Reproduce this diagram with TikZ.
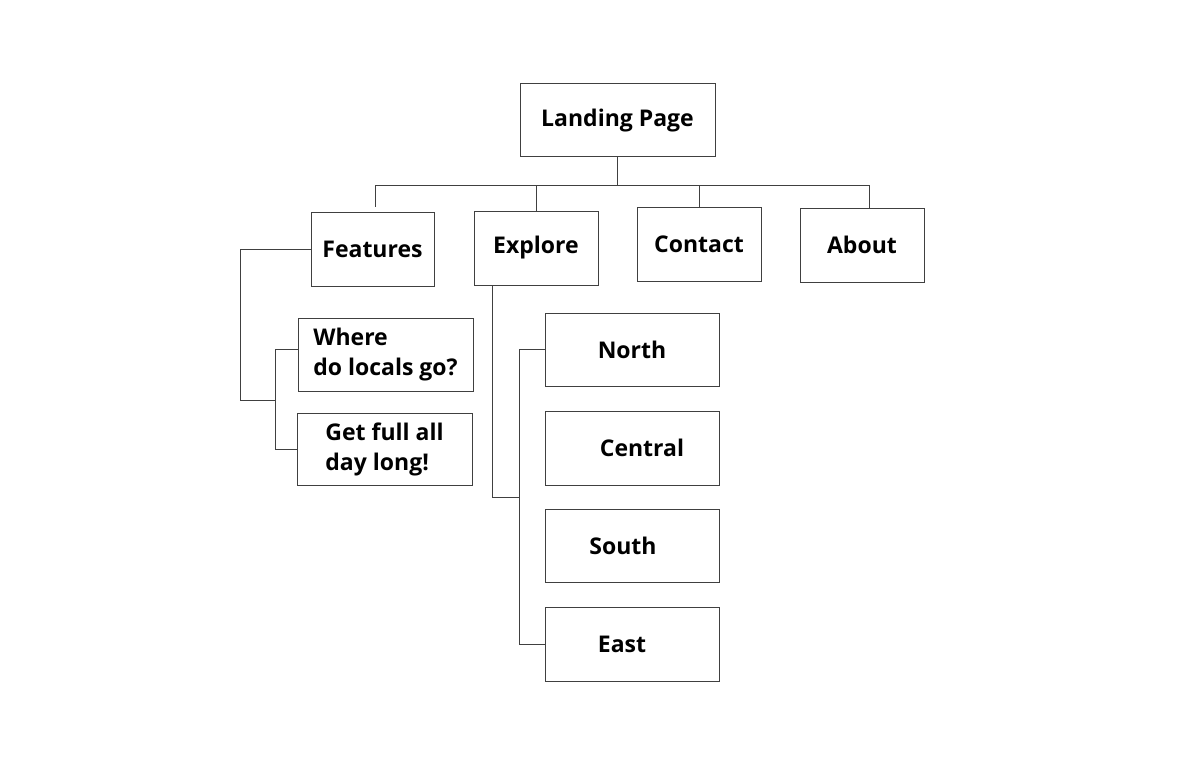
\documentclass[tikz,border=0pt]{standalone}
\usepackage{fontspec}
\setmainfont{Open Sans}
\usetikzlibrary{positioning}
\begin{document}
\begin{tikzpicture}[x=1pt, y=-1pt,
  page/.style={draw=black!75, line width=1pt, fill=white, inner sep=0pt,
    font=\fontsize{23}{30}\selectfont\bfseries},
  link/.style={draw=black!75, line width=1pt}]
\useasboundingbox (0,0) rectangle (1194,765);
% top level
\node[page, minimum width=195pt, minimum height=73pt] (land) at (617.5,120.5) {Landing Page};
\node[page, minimum width=123pt, minimum height=74pt] (feat) at (372.5,249) {Features};
\node[page, minimum width=124pt, minimum height=74pt] (expl) at (536,248) {Explore};
\node[page, minimum width=124pt, minimum height=74pt] (cont) at (699,244) {Contact};
\node[page, minimum width=124pt, minimum height=74pt] (abou) at (862,245) {About};
% features
\node[page, minimum width=175pt, minimum height=73pt, align=left] (where) at (385.5,354.5) {Where\\do locals go?};
\node[page, minimum width=175pt, minimum height=72pt, align=left] (getfull) at (384.5,449) {Get full all\\day long!};
% explore
\node[page, minimum width=174pt, minimum height=73pt] (north) at (632,349.5) {North};
\node[page, minimum width=174pt, minimum height=74pt] (central) at (632,448) {\hspace*{20pt}Central};
\node[page, minimum width=174pt, minimum height=73pt] (south) at (632,545.5) {South\hspace*{18pt}};
\node[page, minimum width=174pt, minimum height=74pt] (east) at (632,644) {East\hspace*{20pt}};

\coordinate (busL) at (375,185);
\coordinate (busR) at (869,185);
\coordinate (fleft) at (240,249);
\coordinate (fjoin) at (275,400);
\coordinate (ejoin) at (519,497);

\draw[link] (land.south) -- (land.south |- busL);
\draw[link] (busL) -- (busR);
\draw[link] (busL) -- ([xshift=2.5pt, yshift=5pt]feat.north);
\draw[link] (expl.north) -- (expl.north |- busL);
\draw[link] (cont.north) -- (cont.north |- busL);
\draw[link] ([xshift=7pt]abou.north) -- (busR);

\draw[link] (feat.west) -- (fleft) |- (fjoin);
\draw[link] ([yshift=5pt]where.west) -- ([yshift=5pt]where.west -| fjoin) -- (getfull.west -| fjoin) -- (getfull.west);

\draw[link] ([xshift=-44pt]expl.south) |- (ejoin);
\draw[link] (north.west) -- (north.west -| ejoin) -- (east.west -| ejoin) -- (east.west);
\end{tikzpicture}
\end{document}
